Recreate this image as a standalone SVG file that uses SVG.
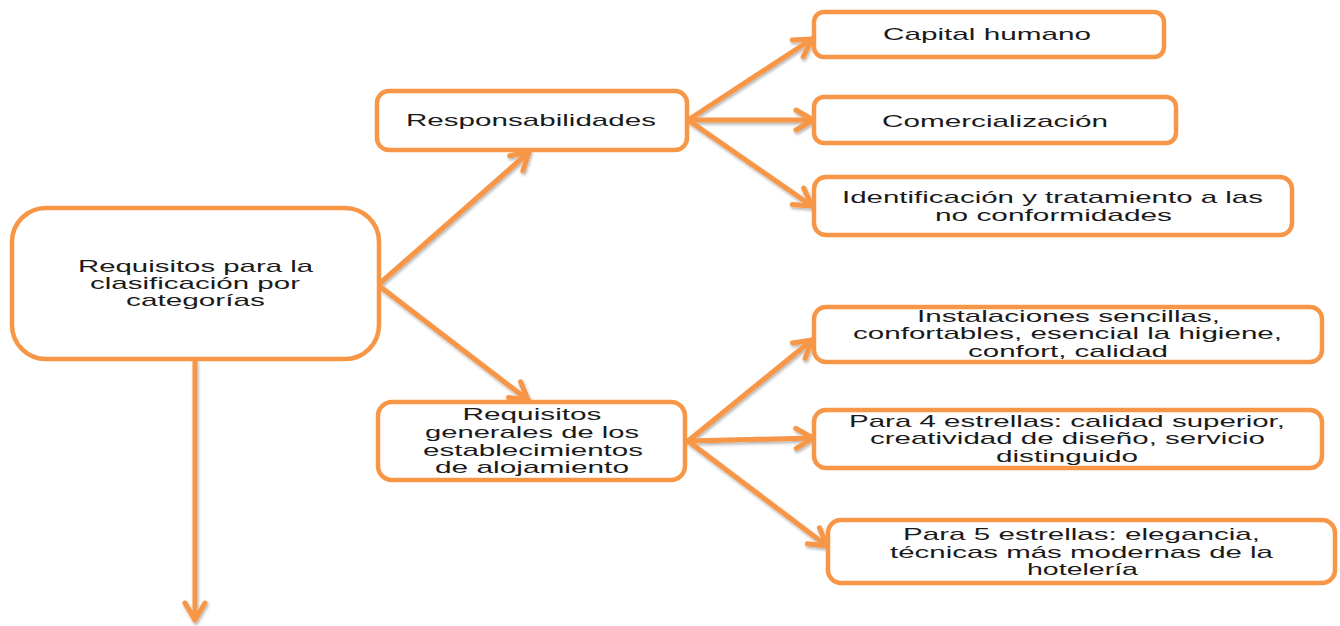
<svg xmlns="http://www.w3.org/2000/svg" width="1340" height="626" viewBox="0 0 1340 626">
<style>
  .box { fill: #ffffff; stroke: #F79646; stroke-width: 4.5; }
  .conn { stroke: #F79646; stroke-width: 5; fill: none; stroke-linecap: round; }
  .t { font-family: "Liberation Sans", Arial, sans-serif; font-size: 17px; fill: #1a1a1a; text-anchor: middle; }
</style>
<defs>
  <filter id="sh" x="-20%" y="-20%" width="140%" height="140%">
    <feDropShadow dx="1" dy="2" stdDeviation="1.5" flood-color="#000" flood-opacity="0.3"/>
  </filter>
  <marker id="arr" markerUnits="userSpaceOnUse" viewBox="-24 -15 30 30" markerWidth="30" markerHeight="30" refX="0" refY="0" orient="auto">
    <path d="M -17 -10 L 0 0 L -17 10" fill="none" stroke="#F79646" stroke-width="5" stroke-linecap="round" stroke-linejoin="round"/>
  </marker>
</defs>
<rect width="1340" height="626" fill="#ffffff"/>

<g id="connectors" filter="url(#sh)">
  <line class="conn" x1="378" y1="285" x2="529" y2="152" marker-end="url(#arr)"/>
  <line class="conn" x1="378" y1="285" x2="528" y2="400" marker-end="url(#arr)"/>
  <line class="conn" x1="195" y1="360" x2="195" y2="620" marker-end="url(#arr)"/>
  <line class="conn" x1="688" y1="120" x2="812" y2="39" marker-end="url(#arr)"/>
  <line class="conn" x1="688" y1="120" x2="813" y2="120" marker-end="url(#arr)"/>
  <line class="conn" x1="688" y1="120" x2="812" y2="206" marker-end="url(#arr)"/>
  <line class="conn" x1="688" y1="441" x2="812" y2="340" marker-end="url(#arr)"/>
  <line class="conn" x1="688" y1="441" x2="813" y2="438" marker-end="url(#arr)"/>
  <line class="conn" x1="688" y1="441" x2="827" y2="546" marker-end="url(#arr)"/>
</g>

<g id="node-main">
  <rect class="box" x="12" y="208" width="367" height="151" rx="34"/>
  <text class="t" x="195.5" y="272" textLength="235" lengthAdjust="spacingAndGlyphs">Requisitos para la</text>
  <text class="t" x="195" y="289" textLength="210" lengthAdjust="spacingAndGlyphs">clasificación por</text>
  <text class="t" x="195.5" y="306" textLength="139" lengthAdjust="spacingAndGlyphs">categorías</text>
</g>

<g id="node-responsabilidades">
  <rect class="box" x="377" y="91" width="310" height="59" rx="12"/>
  <text class="t" x="531" y="126" textLength="250" lengthAdjust="spacingAndGlyphs">Responsabilidades</text>
</g>

<g id="node-requisitos-generales">
  <rect class="box" x="378" y="402" width="307" height="78" rx="14"/>
  <text class="t" x="532" y="420" textLength="139" lengthAdjust="spacingAndGlyphs">Requisitos</text>
  <text class="t" x="532" y="438" textLength="214" lengthAdjust="spacingAndGlyphs">generales de los</text>
  <text class="t" x="533" y="456" textLength="220" lengthAdjust="spacingAndGlyphs">establecimientos</text>
  <text class="t" x="532" y="473" textLength="194" lengthAdjust="spacingAndGlyphs">de alojamiento</text>
</g>

<g id="node-capital">
  <rect class="box" x="814" y="12" width="350" height="45" rx="10"/>
  <text class="t" x="987" y="40" textLength="208" lengthAdjust="spacingAndGlyphs">Capital humano</text>
</g>

<g id="node-comercializacion">
  <rect class="box" x="814" y="97" width="362" height="46" rx="10"/>
  <text class="t" x="995" y="127" textLength="226" lengthAdjust="spacingAndGlyphs">Comercialización</text>
</g>

<g id="node-identificacion">
  <rect class="box" x="814" y="177" width="478" height="58" rx="12"/>
  <text class="t" x="1052.5" y="203" textLength="421" lengthAdjust="spacingAndGlyphs">Identificación y  tratamiento a las</text>
  <text class="t" x="1053.5" y="221" textLength="237" lengthAdjust="spacingAndGlyphs">no conformidades</text>
</g>

<g id="node-instalaciones">
  <rect class="box" x="814" y="307" width="508" height="55" rx="12"/>
  <text class="t" x="1068.5" y="322" textLength="303" lengthAdjust="spacingAndGlyphs">Instalaciones sencillas,</text>
  <text class="t" x="1067.5" y="339" textLength="429" lengthAdjust="spacingAndGlyphs">confortables, esencial la higiene,</text>
  <text class="t" x="1068" y="357" textLength="200" lengthAdjust="spacingAndGlyphs">confort, calidad</text>
</g>

<g id="node-4estrellas">
  <rect class="box" x="814" y="410" width="508" height="58" rx="12"/>
  <text class="t" x="1067" y="427" textLength="436" lengthAdjust="spacingAndGlyphs">Para 4 estrellas: calidad superior,</text>
  <text class="t" x="1067.5" y="444" textLength="395" lengthAdjust="spacingAndGlyphs">creatividad de diseño, servicio</text>
  <text class="t" x="1067" y="462" textLength="142" lengthAdjust="spacingAndGlyphs">distinguido</text>
</g>

<g id="node-5estrellas">
  <rect class="box" x="828" y="520" width="507" height="63" rx="13"/>
  <text class="t" x="1081.5" y="540" textLength="357" lengthAdjust="spacingAndGlyphs">Para 5 estrellas: elegancia,</text>
  <text class="t" x="1081.5" y="558" textLength="383" lengthAdjust="spacingAndGlyphs">técnicas más modernas de la</text>
  <text class="t" x="1082.5" y="575" textLength="111" lengthAdjust="spacingAndGlyphs">hotelería</text>
</g>
</svg>
